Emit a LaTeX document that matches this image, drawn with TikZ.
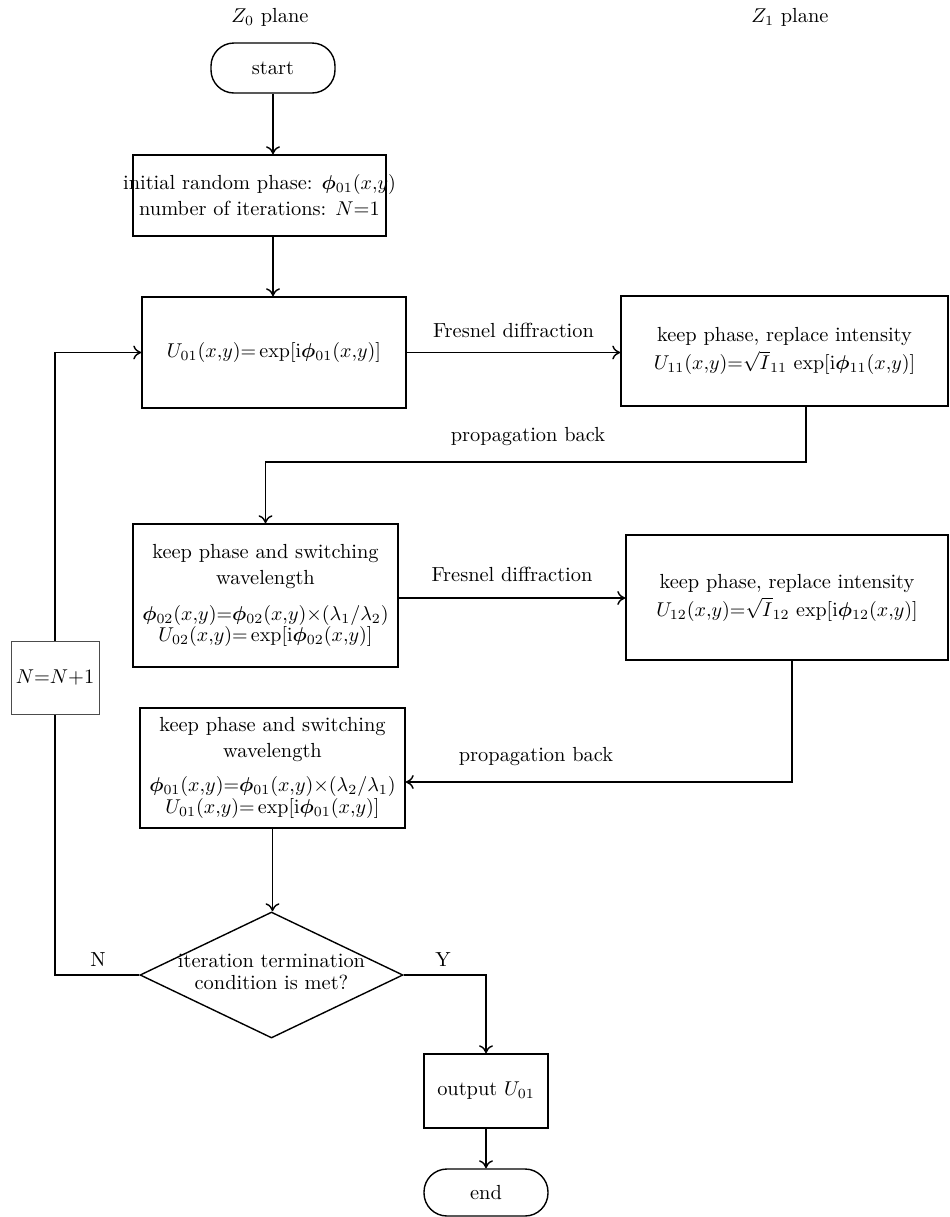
\documentclass[tikz,border=0pt]{standalone}
\usepackage{amsmath,bm}
\usetikzlibrary{shapes.geometric,arrows.meta}
\newcommand{\bphi}{\bm{\phi}}
\newcommand{\xy}{(x{,}y)}
\begin{document}
\begin{tikzpicture}[x=0.5pt,y=-0.5pt,
  every node/.style={font=\fontsize{10.2}{13}\selectfont},
  box/.style={draw,line width=0.7pt,align=center,inner sep=1pt},
  term/.style={draw,line width=0.7pt,rounded corners=11.5pt,inner sep=0pt},
  arr/.style={line width=0.7pt,-{To[length=4pt,width=7pt]}},
  ln/.style={line width=0.7pt},
  lbl/.style={inner sep=1pt}]
\useasboundingbox (0,0) rectangle (949,1217);

\node[lbl] (z0) at (270,17) {$Z_{0}$ plane};
\node[lbl] (z1) at (790,17) {$Z_{1}$ plane};

\node[term,minimum width=62pt,minimum height=25pt] (start) at (273,68) {start};

\node[box,minimum width=126.5pt,minimum height=40.5pt,inner sep=0pt] (b1) at (259.5,195.5)
 {\makebox[124pt]{initial random phase: $\bphi_{01}\xy$}\\ number of iterations: $N$=1};

\node[box,minimum width=132pt,minimum height=55.5pt] (b2) at (274,352.5)
 {$U_{01}\xy{=}\exp[\mathrm{i}\bphi_{01}\xy]$};

\node[box,minimum width=163.5pt,minimum height=55pt] (b3) at (784.5,351)
 {keep phase, replace intensity\\[1pt] $U_{11}\xy{=}\sqrt{I}_{11}\,\exp[\mathrm{i}\bphi_{11}\xy]$};

\node[box,minimum width=132.5pt,minimum height=71.5pt] (b4) at (265.5,595.5)
 {keep phase and switching\\ wavelength\\[5pt]
  $\bphi_{02}\xy{=}\bphi_{02}\xy{\times}(\lambda_1/\lambda_2)$\\[-2.2pt]
  $U_{02}\xy{=}\exp[\mathrm{i}\bphi_{02}\xy]$};

\node[box,minimum width=161pt,minimum height=62.5pt] (b5) at (787,597.5)
 {keep phase, replace intensity\\[1pt] $U_{12}\xy{=}\sqrt{I}_{12}\,\exp[\mathrm{i}\bphi_{12}\xy]$};

\node[box,minimum width=132.5pt,minimum height=60pt] (b6) at (272.5,768)
 {keep phase and switching\\ wavelength\\[4pt]
  $\bphi_{01}\xy{=}\bphi_{01}\xy{\times}(\lambda_2/\lambda_1)$\\[-2.2pt]
  $U_{01}\xy{=}\exp[\mathrm{i}\bphi_{01}\xy]$};

\node[draw,diamond,line width=0.7pt,minimum width=131.5pt,minimum height=63pt,inner sep=0pt] (dia) at (271.5,975) {};
\node[align=center,inner sep=0pt,font=\fontsize{10.2}{11}\selectfont] (diat) at (271.5,972) {iteration termination\\ condition is met?};

\node[box,draw=black!70,line width=0.5pt,minimum width=44pt,minimum height=36.5pt] (nb) at (55,677.5) {$N$=$N$+1};

\node[box,minimum width=62pt,minimum height=37pt] (out) at (486,1091) {output $U_{01}$};
\node[term,minimum width=62pt,minimum height=23.5pt] (end) at (486,1192.5) {end};

\coordinate (p1) at (806,462);
\coordinate (p2) at (792,782);

\draw[arr] (start.south) -- (start.south |- b1.north);
\draw[arr] (b1.south -| start.south) -- (b2.north -| start.south);
\draw[arr] (b2.east) -- (b2.east -| b3.west)
  node[lbl,midway,above=6pt] {Fresnel diffraction};
\draw[arr] (b3.south -| p1) -- (p1) -| (b4.north);
\node[lbl] at (528,437) {propagation back};
\draw[arr] (b4.east) ++(0,2.5) coordinate (b4e) -- (b4e -| b5.west)
  node[lbl,midway,above=7pt] {Fresnel diffraction};
\draw[arr] (b5.south -| p2) -- (p2) -- (p2 -| b6.east);
\node[lbl] at (536,757) {propagation back};
\draw[arr] (b6.south) -- (b6.south |- dia.north);
\draw[arr] (dia.east) -| (out.north);
\node[lbl] at (443,960) {Y};
\draw[arr] (out.south) -- (end.north);
\draw[ln] (dia.west) -| (nb.south);
\node[lbl] at (98,960) {N};
\draw[arr] (nb.north) |- (b2.west);
\end{tikzpicture}
\end{document}
